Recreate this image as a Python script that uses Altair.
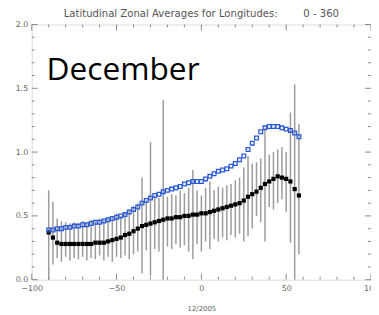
import altair as alt
import pandas as pd

lat = [-90 + 2.5 * i for i in range(60)]

blue = [0.39, 0.39, 0.40, 0.40, 0.41, 0.41, 0.42, 0.42, 0.43, 0.43,
        0.44, 0.45, 0.45, 0.46, 0.47, 0.48, 0.49, 0.50, 0.51, 0.53,
        0.55, 0.57, 0.60, 0.62, 0.64, 0.66, 0.67, 0.69, 0.70, 0.71,
        0.72, 0.73, 0.75, 0.76, 0.77, 0.77, 0.77, 0.79, 0.81, 0.83,
        0.85, 0.86, 0.87, 0.89, 0.91, 0.94, 0.97, 1.02, 1.07, 1.11,
        1.16, 1.19, 1.20, 1.20, 1.20, 1.19, 1.18, 1.17, 1.15, 1.12]

black = [0.37, 0.33, 0.29, 0.28, 0.28, 0.28, 0.28, 0.28, 0.28, 0.28,
         0.28, 0.29, 0.29, 0.29, 0.30, 0.31, 0.32, 0.33, 0.35, 0.36,
         0.38, 0.40, 0.42, 0.43, 0.44, 0.45, 0.46, 0.47, 0.48, 0.48,
         0.49, 0.49, 0.50, 0.50, 0.51, 0.51, 0.52, 0.52, 0.53, 0.54,
         0.55, 0.56, 0.57, 0.58, 0.59, 0.60, 0.62, 0.65, 0.67, 0.69,
         0.72, 0.75, 0.77, 0.79, 0.81, 0.80, 0.79, 0.77, 0.71, 0.66]

low = [0.00, 0.12, 0.17, 0.14, 0.18, 0.15, 0.17, 0.16, 0.18, 0.15,
       0.17, 0.16, 0.19, 0.15, 0.18, 0.14, 0.18, 0.17, 0.19, 0.16,
       0.20, 0.22, 0.05, 0.23, 0.03, 0.24, 0.22, 0.00, 0.26, 0.24,
       0.28, 0.25, 0.27, 0.22, 0.16, 0.28, 0.22, 0.30, 0.24, 0.32,
       0.30, 0.33, 0.31, 0.35, 0.33, 0.36, 0.30, 0.34, 0.40, 0.50,
       0.45, 0.30, 0.57, 0.55, 0.60, 0.63, 0.53, 0.29, 0.00, 0.20]

high = [0.70, 0.61, 0.48, 0.46, 0.45, 0.44, 0.45, 0.44, 0.46, 0.45,
        0.47, 0.46, 0.48, 0.47, 0.49, 0.50, 0.52, 0.50, 0.53, 0.55,
        0.58, 0.60, 0.80, 0.62, 1.08, 0.66, 0.64, 1.41, 0.65, 0.67,
        0.66, 0.70, 0.68, 0.72, 0.86, 0.70, 0.66, 0.72, 0.77, 0.70,
        0.73, 0.72, 0.74, 0.75, 0.78, 0.80, 0.88, 0.97, 0.91, 0.92,
        0.95, 1.19, 0.98, 1.00, 1.02, 1.04, 1.00, 1.31, 1.53, 1.22]

x_labels = [-100, -50, 0, 50, 100]
y_labels = [0.0, 0.5, 1.0, 1.5, 2.0]
x_minor = list(range(-100, 101, 10))
y_minor = [round(0.1 * i, 1) for i in range(21)]

X_DOM = [-100, 100]
Y_DOM = [0, 2]
W, H = 343, 258
GREY = "#8a8a8a"
LABEL = "#666666"

df = pd.DataFrame({"lat": lat, "blue": blue, "black": black, "low": low, "high": high})

xs = alt.Scale(domain=X_DOM, nice=False, zero=False)
ys = alt.Scale(domain=Y_DOM, nice=False, zero=False)

x_axis = alt.Axis(values=x_labels, ticks=False, tickSize=0, domain=False, grid=False,
                  labelFontSize=8, labelColor=LABEL, labelPadding=5,
                  labelFont="DejaVu Sans", title="12/2005", titleFontSize=7,
                  titleColor=LABEL, titleFont="DejaVu Sans", titleFontWeight="normal",
                  titlePadding=12, labelFlush=False)
y_axis = alt.Axis(values=y_labels, format=".1f", ticks=False, tickSize=0, domain=False,
                  grid=False, labelFontSize=8, labelColor=LABEL, labelPadding=4,
                  labelFont="DejaVu Sans", title=None)


def X(field):
    return alt.X(field, scale=xs, axis=x_axis, title="12/2005")


def Y(field):
    return alt.Y(field, scale=ys, axis=y_axis, title=None)


bars = alt.Chart(df).mark_rule(color="#9c9c9c", strokeWidth=1.5).encode(
    x=X("lat:Q"), y=Y("low:Q"), y2="high:Q",
)

black_pts = alt.Chart(df).mark_square(color="black", size=18, opacity=1).encode(
    x=X("lat:Q"), y=Y("black:Q"),
)

blue_pts = alt.Chart(df).mark_point(shape="square", filled=False, color="#2b5ad8",
                                    size=14, strokeWidth=1.3, opacity=1).encode(
    x=X("lat:Q"), y=Y("blue:Q"),
)

# inward tick marks on all four sides
xt_rows = []
for v in x_minor:
    ln = 0.047 if v % 50 == 0 else 0.023
    xt_rows.append({"x": v, "y": Y_DOM[0], "y2": Y_DOM[0] + ln})
    xt_rows.append({"x": v, "y": Y_DOM[1], "y2": Y_DOM[1] - ln})
yt_rows = []
for v in y_minor:
    major = abs(v * 2 - round(v * 2)) < 1e-9
    ln = 3.5 if major else 1.75
    yt_rows.append({"y": v, "x": X_DOM[0], "x2": X_DOM[0] + ln})
    yt_rows.append({"y": v, "x": X_DOM[1], "x2": X_DOM[1] - ln})

xticks = alt.Chart(pd.DataFrame(xt_rows)).mark_rule(color=GREY, strokeWidth=1).encode(
    x=X("x:Q"), y=Y("y:Q"), y2="y2:Q",
)
yticks = alt.Chart(pd.DataFrame(yt_rows)).mark_rule(color=GREY, strokeWidth=1).encode(
    x=X("x:Q"), x2="x2:Q", y=Y("y:Q"),
)

month = alt.Chart(pd.DataFrame({"t": ["December"]})).mark_text(
    font="Open Sans", fontSize=32, color="black", align="left", baseline="alphabetic"
).encode(text="t:N", x=alt.value(15), y=alt.value(56))

title_text = "Latitudinal Zonal Averages for Longitudes:" + "\u00a0" * 8 + "0 - 360"

chart = alt.layer(bars, xticks, yticks, black_pts, blue_pts, month).properties(
    width=W, height=H,
    title=alt.Title(title_text, fontSize=10.2, font="DejaVu Sans", fontWeight="normal",
                    color="#555555", anchor="middle", offset=1),
    autosize=alt.AutoSizeParams(type="none"),
    padding={"left": 24, "top": 15, "right": 0, "bottom": 32},
).configure_view(stroke=GREY, strokeWidth=1.5).configure_axis(
    ticks=False, tickSize=0, domain=False
).configure(background="white")

chart.save("out.html", embed_options={"renderer": "svg", "actions": False})
